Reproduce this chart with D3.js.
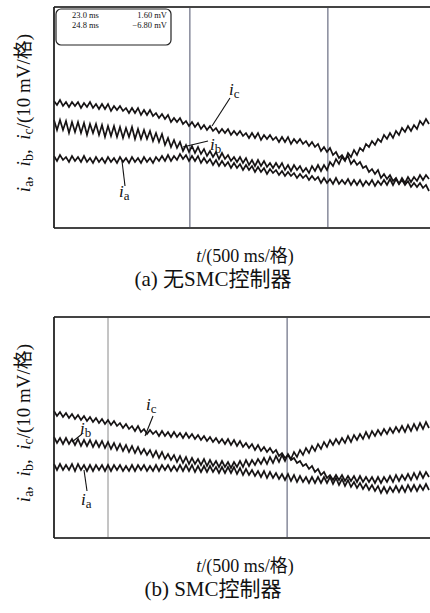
<!DOCTYPE html>
<html>
<head>
<meta charset="utf-8">
<script src="https://cdn.jsdelivr.net/npm/d3@7"></script>
<style>
  body { margin: 0; background: #fff; }
  text { font-family: "Liberation Serif", "Times New Roman", "Noto Sans CJK SC", serif; fill: #111; }
</style>
</head>
<body>
<svg id="chart" width="430" height="613"></svg>
<script>
// oscilloscope samples, one every 3 px of screen, height above the bottom of the screen
var icA = [127,123,128,122,126,121,126,122,126,120,125,121,126,120,124,119,124,119,124,117,122,118,122,117,120,115,120,115,120,113,118,113,118,112,115,110,114,109,113,106,110,106,110,104,107,102,106,101,105,99,103,98,102,97,100,95,99,95,99,93,97,93,97,92,95,90,95,90,95,88,93,89,93,88,91,86,91,86,91,84,89,85,89,84,87,82,86,81,84,77,81,76,80,73,76,70,73,68,72,64,68,63,66,60,62,56,59,54,58,50,54,49,53,47,50,44,48,43,47,41,45,41,45,40,43,37];
var ibA = [108,98,108,98,107,95,106,96,106,95,105,93,104,95,104,93,103,91,102,92,102,91,101,90,100,91,101,89,99,89,98,89,97,87,95,86,94,83,90,81,88,80,86,77,83,76,82,75,81,74,79,72,77,71,76,69,75,69,73,67,71,66,71,65,70,63,68,62,68,62,67,61,65,60,65,60,65,58,63,57,63,58,62,56,60,55,62,57,63,57,63,58,66,62,69,64,71,67,75,71,78,73,80,77,84,81,87,83,89,86,93,89,95,90,97,93,100,96,102,97,103,99,107,103,109,104];
var iaA = [72,67,73,68,71,66,72,67,71,66,72,66,70,65,71,66,70,65,71,66,70,65,71,66,70,65,71,66,70,65,71,66,70,65,71,67,72,67,73,67,72,68,74,69,73,67,72,67,72,65,70,65,69,63,68,62,67,62,66,60,65,60,64,58,63,58,62,56,61,56,60,54,59,55,58,53,57,52,56,52,55,50,54,50,53,48,52,48,51,45,50,45,49,44,50,44,48,44,49,43,48,43,48,42,47,43,48,42,47,43,48,43,49,43,49,44,50,45,51,46,51,47,53,48,53,49];

var icB = [127,122,126,121,125,120,124,119,123,118,122,117,121,116,120,115,119,114,118,113,117,112,115,110,114,109,112,107,112,106,109,104,108,104,107,102,107,102,106,101,106,101,105,100,105,100,104,99,103,98,102,97,101,96,100,95,99,94,99,93,98,92,97,91,95,90,94,88,93,87,91,86,90,85,88,82,85,80,83,78,80,75,77,72,74,69,72,66,69,63,66,60,63,58,63,58,63,57,62,57,62,56,62,56,61,56,61,55,61,55,61,56,62,56,63,57,63,58,64,58,65,59,66,60,66,61];
var ibB = [101,95,100,94,100,94,99,93,99,92,98,92,98,91,97,91,97,90,96,89,95,88,94,87,93,86,92,85,91,84,89,83,88,81,87,80,86,79,84,78,83,76,82,75,81,74,80,74,79,73,79,72,78,72,77,71,77,71,76,70,76,71,77,71,78,72,78,73,79,74,80,74,81,75,82,76,83,77,84,79,86,81,88,83,90,85,92,87,94,89,96,91,98,93,99,94,100,95,102,96,103,98,104,99,106,100,107,102,108,103,109,104,110,105,111,106,112,106,113,107,114,108,115,109,116,110];
var iaB = [74,68,74,68,73,68,74,67,74,68,73,67,73,67,73,68,73,67,73,67,73,68,73,67,72,67,73,67,73,68,73,67,72,67,73,67,73,68,73,67,72,67,73,67,73,67,73,66,72,66,72,66,72,66,71,65,71,65,71,65,71,64,70,63,69,63,68,62,67,61,67,60,66,60,65,59,64,58,64,57,63,56,62,56,61,55,61,55,61,55,61,55,61,54,60,53,59,52,58,51,56,50,55,49,54,48,53,47,52,45,51,45,51,46,52,46,52,46,53,47,53,47,53,48,54,48];

// cursor positions, in sample numbers
var cursorsA = [45.3, 91.3];
var cursorsB = [18, 77.7];
var readout = [["23.0 ms", "1.60 mV"], ["24.8 ms", "\u22126.80 mV"]];
var captions = ["(a) 无SMC控制器", "(b) SMC控制器"];

var svg = d3.select("#chart");
svg.append("rect").attr("width", 430).attr("height", 613).attr("fill", "#fff");

var plotLeft = 54, plotRight = 431, plotH = 221;

var x = d3.scaleLinear().domain([0, icA.length - 1]).range([plotLeft, 429]);

function label(g, px, py, letter) {
  var t = g.append("text").attr("x", px).attr("y", py).style("font-size", "17px");
  t.append("tspan").style("font-style", "italic").text("i");
  t.append("tspan").attr("dy", 3).style("font-size", "13px").text(letter);
}

function leader(g, x1, y1, x2, y2) {
  g.append("line")
    .attr("x1", x1).attr("y1", y1).attr("x2", x2).attr("y2", y2)
    .attr("stroke", "#111").attr("stroke-width", 1.1);
}

function drawPanel(top, traces, cursors, cursorCols, caption) {
  var g = svg.append("g");
  var y = d3.scaleLinear().domain([0, plotH]).range([top + plotH, top]);

  var line = d3.line()
    .x(function(d, i) { return x(i); })
    .y(function(d) { return y(d); });

  // cursors
  g.selectAll(".cursor")
    .data(cursors)
    .enter().append("line")
      .attr("x1", function(d) { return x(d); })
      .attr("x2", function(d) { return x(d); })
      .attr("y1", top).attr("y2", top + plotH)
      .attr("stroke", function(d, i) { return cursorCols[i]; })
      .attr("stroke-width", 1);

  g.selectAll(".trace")
    .data(traces)
    .enter().append("path")
      .attr("class", "trace")
      .attr("d", line)
      .attr("fill", "none")
      .attr("stroke", "#161314")
      .attr("stroke-width", 1.7)
      .attr("stroke-linejoin", "miter");

  // frame
  g.append("line").attr("x1", plotLeft).attr("x2", plotRight).attr("y1", top).attr("y2", top)
    .attr("stroke", "#444").attr("stroke-width", 2);
  g.append("line").attr("x1", plotLeft).attr("x2", plotRight).attr("y1", top + plotH).attr("y2", top + plotH)
    .attr("stroke", "#444").attr("stroke-width", 1.8);
  g.append("line").attr("x1", plotLeft).attr("x2", plotLeft).attr("y1", top).attr("y2", top + plotH)
    .attr("stroke", "#222").attr("stroke-width", 1.8);

  // y title
  var yt = g.append("text")
    .attr("transform", "translate(30," + (top + 106) + ") rotate(-90)")
    .attr("text-anchor", "middle")
    .style("font-size", "19px");
  ["a", "b", "c"].forEach(function(s, i) {
    yt.append("tspan").style("font-style", "italic").text("i");
    yt.append("tspan").attr("dy", 3).style("font-size", "14px").text(s);
    yt.append("tspan").attr("dy", -3).text(i < 2 ? ",\u2002" : "/(10 mV/格)");
  });

  // x title
  var xt = g.append("text")
    .attr("x", 245).attr("y", top + plotH + 34)
    .attr("text-anchor", "middle")
    .style("font-size", "18px");
  xt.append("tspan").style("font-style", "italic").text("t");
  xt.append("tspan").text("/(500 ms/格)");

  g.append("text")
    .attr("x", 213).attr("y", top + plotH + 58)
    .attr("text-anchor", "middle")
    .style("font-size", "21px")
    .text(caption);

  return g;
}

var gA = drawPanel(7, [icA, ibA, iaA], cursorsA, ["#4b5068", "#4b5068"], captions[0]);
var gB = drawPanel(317, [icB, ibB, iaB], cursorsB, ["#8a8a8a", "#4b5068"], captions[1]);

// readout box of panel (a)
gA.append("rect")
  .attr("x", 56).attr("y", 9).attr("width", 115).attr("height", 36)
  .attr("rx", 5)
  .attr("fill", "#fff").attr("stroke", "#222").attr("stroke-width", 1.2);
readout.forEach(function(r, i) {
  gA.append("text").attr("x", 72).attr("y", 18 + i * 9.5).style("font-size", "8.5px").text(r[0]);
  gA.append("text").attr("x", 167).attr("y", 18 + i * 9.5).attr("text-anchor", "end").style("font-size", "8.5px").text(r[1]);
});

// trace labels
label(gA, 229, 95, "c");  leader(gA, 230, 98, 212, 126);
label(gA, 210, 150, "b"); leader(gA, 208, 141, 183, 147);
label(gA, 119, 197, "a"); leader(gA, 125, 186, 122, 161);

label(gB, 146, 410, "c"); leader(gB, 153, 416, 145, 436);
label(gB, 80, 434, "b");  leader(gB, 82, 434, 72, 442);
label(gB, 81, 505, "a");  leader(gB, 87, 491, 84, 470);
</script>
</body>
</html>
